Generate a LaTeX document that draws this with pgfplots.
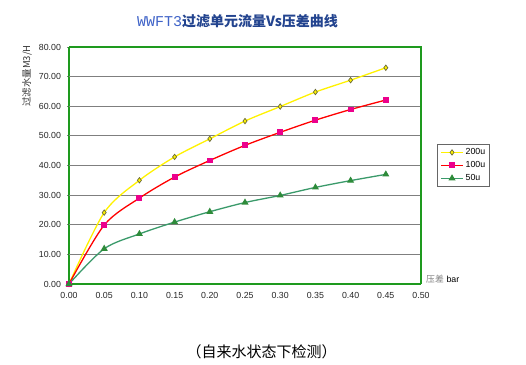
\documentclass[border=0pt]{standalone}
\usepackage{pgfplots}
\pgfplotsset{compat=1.18}
\usepackage{fontspec}
\setmainfont{Liberation Sans}
\newfontfamily\cjk{Noto Sans CJK SC}
\newfontfamily\mono{Liberation Mono}
\definecolor{ttlblue}{HTML}{3F63C8}
\definecolor{ttldark}{HTML}{23448F}
\definecolor{framegr}{HTML}{1E9A1E}
\definecolor{seagr}{HTML}{3A9A6A}
\definecolor{trigr}{HTML}{2E8B3A}
\definecolor{olivedk}{HTML}{6B6B3A}
\definecolor{gridgr}{HTML}{7F7F7F}
\begin{document}
\begin{tikzpicture}
\fill[white] (0pt,0pt) rectangle (526pt,364pt);
\begin{axis}[
  at={(69pt,80pt)}, anchor=south west, scale only axis,
  width=352pt, height=237pt,
  xmin=0, xmax=0.5, ymin=0, ymax=80,
  axis lines=left,
  xtick={0,0.05,0.1,0.15,0.2,0.25,0.3,0.35,0.4,0.45,0.5},
  ytick={0,10,20,30,40,50,60,70,80},
  extra y ticks={10,20,30,40,50,60,70},
  extra y tick labels={},
  extra y tick style={grid=major, tick style={draw=none}},
  /pgf/number format/.cd, fixed, fixed zerofill, precision=2, assume math mode=true,
  /pgfplots/.cd,
  grid style={gridgr, line width=0.9pt},
  axis line style={-, framegr, line width=1.2pt},
  tick align=outside, major tick length=2pt,
  xtick style={draw=none},
  ytick style={gridgr, line width=0.8pt},
  ticklabel style={font=\fontsize{8.8}{10}\selectfont, text=black!85},
  yticklabel style={xshift=-2.5pt},
  xticklabel style={yshift=-2.5pt},
  legend style={at={(1.0468,0.592)}, anchor=north west, draw=gray!80!black,
    font=\fontsize{8.8}{10}\selectfont, row sep=1.3pt, inner sep=2.5pt, line width=0.8pt},
  legend cell align=left,
  legend image code/.code={\draw[mark repeat=2,mark phase=2,#1] plot coordinates {(0pt,0pt) (11pt,0pt) (22pt,0pt)};},
  after end axis/.code={\draw[draw=framegr, line width=1.2pt] (rel axis cs:0,1) -- (rel axis cs:1,1) -- (rel axis cs:1,0);},
]
\addplot[yellow, line width=1.3pt, smooth, tension=0.5, mark=diamond*, mark size=2.7pt,
  mark options={fill=yellow, draw=olivedk, line width=0.7pt}]
  coordinates {(0,0) (0.05,24.1) (0.1,35.0) (0.15,42.9) (0.2,49.0) (0.25,55.0) (0.3,59.9) (0.35,64.8) (0.4,68.8) (0.45,73.0)};
\addlegendentry{200u}
\addplot[red, line width=1.3pt, smooth, tension=0.5, mark=square*, mark size=2.3pt,
  mark options={fill=magenta, draw=magenta}]
  coordinates {(0,0) (0.05,19.9) (0.1,29.0) (0.15,36.1) (0.2,41.7) (0.25,46.8) (0.3,51.2) (0.35,55.3) (0.4,58.9) (0.45,62.1)};
\addlegendentry{100u}
\addplot[seagr, line width=1.3pt, smooth, tension=0.5, mark=triangle*, mark size=2.8pt,
  mark options={fill=trigr, draw=trigr}]
  coordinates {(0,0) (0.05,11.9) (0.1,16.9) (0.15,20.9) (0.2,24.4) (0.25,27.5) (0.3,29.9) (0.35,32.6) (0.4,34.9) (0.45,37.0)};
\addlegendentry{50u}
\end{axis}
\node at (237.5pt,342.5pt) {{\mono\fontsize{15}{16}\selectfont\color{ttlblue}WWFT3}{\cjk\bfseries\fontsize{14}{16}\selectfont\color{ttldark}过滤单元流量Vs压差曲线}};
\node[rotate=90, font=\cjk\fontsize{9.5}{10}\selectfont, text=black!80] at (27pt,288pt) {过滤水量M3/H};
\node[anchor=west, inner sep=0pt] at (426pt,85pt) {{\cjk\fontsize{8.8}{10}\selectfont\color{gray}压差} {\fontsize{8.8}{10}\selectfont bar}};
\node at (261.5pt,12.3pt) {\cjk\fontsize{15}{16}\selectfont （自来水状态下检测）};
\end{tikzpicture}
\end{document}
